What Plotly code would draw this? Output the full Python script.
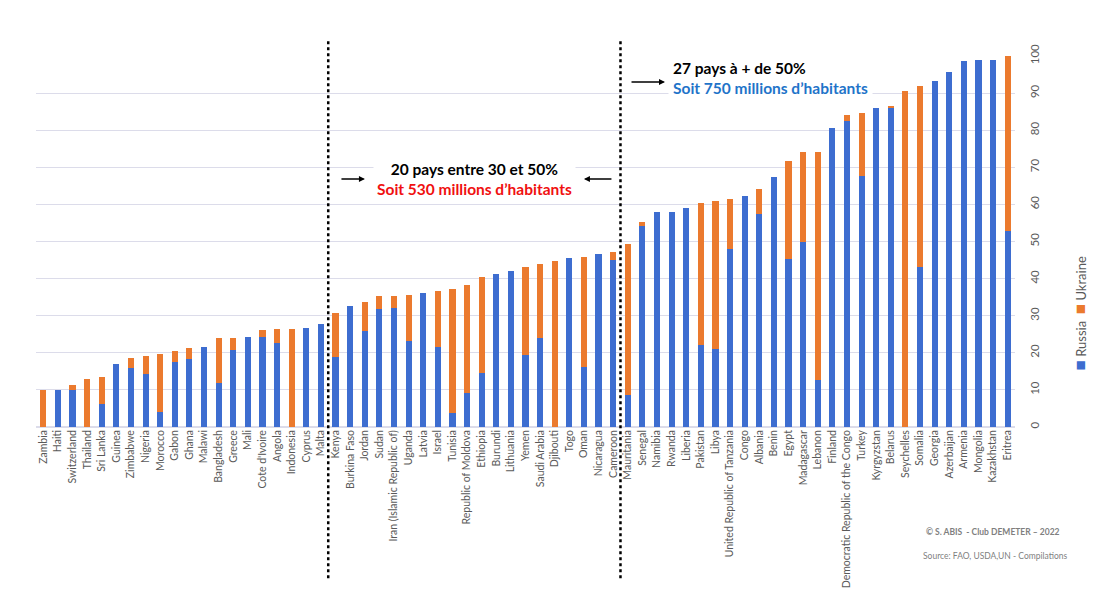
import plotly.graph_objects as go

countries = [
    'Zambia', 'Haiti', 'Switzerland', 'Thailand', 'Sri Lanka', 'Guinea', 'Zimbabwe', 'Nigeria',
    'Morocco', 'Gabon', 'Ghana', 'Malawi', 'Bangladesh', 'Greece', 'Mali', "Cote d'Ivoire",
    'Angola', 'Indonesia', 'Cyprus', 'Malta',
    'Kenya', 'Burkina Faso', 'Jordan', 'Sudan', 'Iran (Islamic Republic of)', 'Uganda', 'Latvia',
    'Israel', 'Tunisia', 'Republic of Moldova', 'Ethiopia', 'Burundi', 'Lithuania', 'Yemen',
    'Saudi Arabia', 'Djibouti', 'Togo', 'Oman', 'Nicaragua', 'Cameroon',
    'Mauritania', 'Senegal', 'Namibia', 'Rwanda', 'Liberia', 'Pakistan', 'Libya',
    'United Republic of Tanzania', 'Congo', 'Albania', 'Benin', 'Egypt', 'Madagascar', 'Lebanon',
    'Finland', 'Democratic Republic of the Congo', 'Turkey', 'Kyrgyzstan', 'Belarus', 'Seychelles',
    'Somalia', 'Georgia', 'Azerbaijan', 'Armenia', 'Mongolia', 'Kazakhstan', 'Eritrea',
]

russia = [
    0, 10, 10, 0, 6.3, 17.1, 16.0, 14.4, 4.1, 17.6, 18.4, 21.5, 11.9, 20.8, 24.3, 24.3,
    22.6, 0, 26.8, 27.7,
    18.8, 32.7, 25.9, 31.7, 32.1, 23.1, 36.0, 21.6, 3.9, 9.1, 14.5, 41.3, 42.0, 19.5,
    24.0, 0, 45.5, 16.2, 46.7, 45.0,
    8.6, 54.1, 57.9, 57.9, 58.9, 22.2, 20.9, 47.9, 62.3, 57.5, 67.5, 45.4, 49.9, 12.7,
    80.6, 82.6, 67.7, 85.9, 86.0, 0, 43.2, 93.2, 95.6, 98.7, 98.8, 98.8, 52.9,
]

ukraine = [
    10, 0, 1.2, 12.9, 7.2, 0, 2.7, 4.8, 15.7, 2.9, 2.9, 0, 12.0, 3.3, 0, 1.8,
    3.7, 26.4, 0, 0,
    12.0, 0, 7.7, 3.5, 3.3, 12.4, 0, 15.0, 33.4, 29.2, 26.0, 0, 0, 23.7,
    19.9, 44.8, 0, 29.6, 0, 2.2,
    40.8, 1.1, 0, 0, 0, 38.1, 40.0, 13.5, 0, 6.7, 0, 26.3, 24.2, 61.5,
    0, 1.5, 17.0, 0, 0.3, 90.7, 48.7, 0, 0, 0, 0, 0, 47.0,
]

y_ticks = [0, 10, 20, 30, 40, 50, 60, 70, 80, 90, 100]

BLUE = '#3D6DD0'
ORANGE = '#EB7A2E'
GREY = '#595959'

fig = go.Figure()
fig.add_trace(go.Bar(x=countries, y=russia, name='Russia', marker={'color': BLUE, 'line': {'width': 0}}))
fig.add_trace(go.Bar(x=countries, y=ukraine, name='Ukraine', marker={'color': ORANGE, 'line': {'width': 0}}))

# page body has an 8px margin, so the margins are shifted to compensate
fig.update_layout(
    width=1104, height=591,
    barmode='stack', bargap=0.58,
    showlegend=False,
    plot_bgcolor='white', paper_bgcolor='white',
    margin={'l': 28, 'r': 97, 't': 48, 'b': 172},
    font={'family': 'Lato, sans-serif', 'color': GREY},
)
fig.update_xaxes(tickangle=-90, tickfont={'size': 10.5, 'color': GREY}, automargin=False,
                 showgrid=False, showline=False, ticks='')
fig.update_yaxes(side='right', range=[0, 100], tickvals=y_ticks, tickangle=-90,
                 tickfont={'size': 11.5, 'color': GREY}, ticklabelstandoff=11,
                 gridcolor='#DCDCEA', gridwidth=1, zeroline=True, zerolinecolor='#DCDCEA',
                 automargin=False)

# dotted separators
for xpos in (19.5, 39.5):
    fig.add_shape(type='line', xref='x', yref='paper', x0=xpos, x1=xpos, y0=1.04, y1=-0.41,
                  line={'color': 'black', 'width': 2.5, 'dash': 'dot'})

# faint frame line on the right
fig.add_shape(type='line', xref='paper', yref='paper', x0=1.0838, x1=1.0838, y0=1.057, y1=-0.44,
              line={'color': '#E2E2EA', 'width': 1.5})

bold = {'family': 'Lato, sans-serif', 'size': 15.5}
fig.add_annotation(xref='paper', yref='paper', x=0.4484, y=0.6685, xanchor='center', yanchor='middle',
                   showarrow=False,
                   text="<b><span style='color:black'>20 pays entre 30 et 50%</span><br>"
                        "<span style='color:#F01010'>Soit 530 millions d\u2019habitants</span></b>",
                   font=bold, bgcolor='white', borderpad=3)
fig.add_annotation(xref='paper', yref='paper', x=0.6454, y=0.942, xanchor='left', yanchor='middle',
                   align='left', showarrow=False,
                   text="<b><span style='color:black'>27 pays à + de 50%</span><br>"
                        "<span style='color:#1F74C9'>Soit 750 millions d\u2019habitants</span></b>",
                   font=bold, bgcolor='white', borderpad=4)

# arrows
for hx, hy, ax in ((0.3360, 0.6685, -25), (0.5597, 0.6685, 29), (0.6425, 0.930, -35)):
    fig.add_annotation(xref='paper', yref='paper', x=hx, y=hy, ax=ax, ay=0, text='',
                       showarrow=True, arrowhead=2, arrowsize=0.8, arrowwidth=1.5, arrowcolor='black')

# rotated legend
fig.add_annotation(xref='paper', yref='paper', x=1.066, y=0.305, xanchor='center', yanchor='middle',
                   showarrow=False, textangle=-90,
                   text=f"<span style='color:{BLUE};font-size:17px'>■</span> Russia  "
                        f"<span style='color:{ORANGE};font-size:17px'>■</span> Ukraine",
                   font={'size': 13, 'color': GREY})

# credits
fig.add_annotation(xref='paper', yref='paper', x=0.9775, y=-0.283, xanchor='center', yanchor='middle',
                   showarrow=False,
                   text='<b>© S. ABIS  - Club DEMETER – 2022</b>', font={'size': 8.5, 'color': '#7F7F7F'})
fig.add_annotation(xref='paper', yref='paper', x=0.9805, y=-0.348, xanchor='center', yanchor='middle',
                   showarrow=False,
                   text='Source: FAO, USDA,UN - Compilations', font={'size': 8.5, 'color': '#7F7F7F'})

fig.write_html('out.html')
